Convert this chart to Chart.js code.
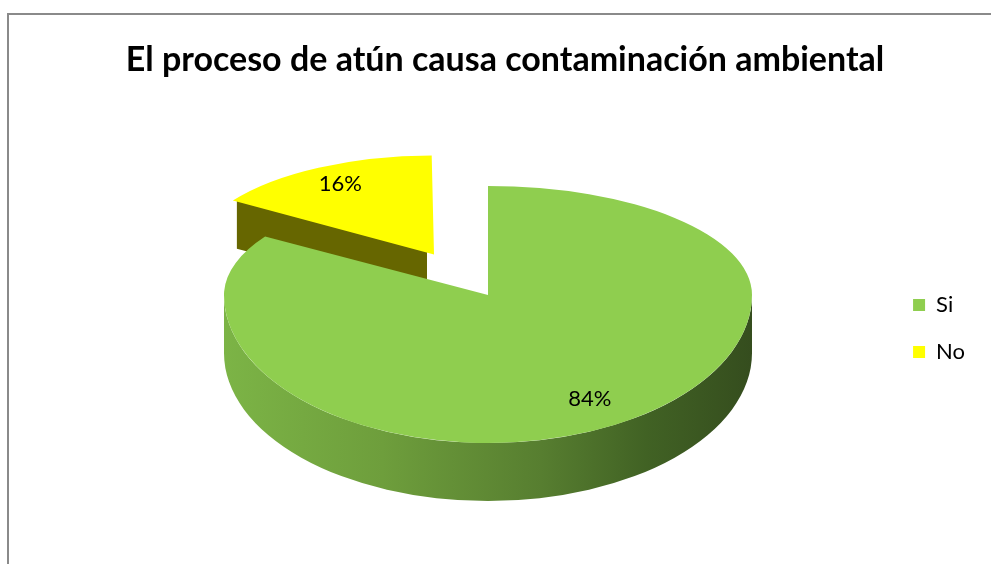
<!DOCTYPE html>
<html>
<head>
<meta charset="utf-8">
<script src="https://cdn.jsdelivr.net/npm/chart.js@4.4.1/dist/chart.umd.min.js"></script>
<style>
  html, body { margin: 0; padding: 0; background: #fff; }
</style>
</head>
<body>
<canvas id="grafico" width="991" height="564"></canvas>
<script>
const titulo = "El proceso de atún causa contaminación ambiental";
const categorias = ["Si", "No"];
const valores = [84, 16];
const colores = ["#8fce4f", "#ffff00"];
const coloresLado = ["#5f8a34", "#666600"];
const desplazamiento = [0, 332];

// geometria del "3D" (pantalla)
const R = 200;
const CX = 488, CY = 295, RX = 264, RY_ARRIBA = 109, RY_ABAJO = 148, PROF = 58;
const PERSP = 0.35; // las porciones alejadas se ven mas chicas

const pie3D = {
    id: 'pie3D',
    beforeDraw(chart) {
        // marco gris
        const ctx = chart.ctx;
        ctx.save();
        ctx.strokeStyle = '#8a8a8a';
        ctx.lineWidth = 2;
        ctx.beginPath();
        ctx.moveTo(8, 564);
        ctx.lineTo(8, 14);
        ctx.lineTo(991, 14);
        ctx.stroke();
        ctx.restore();
    },
    beforeDatasetsDraw(chart) {
        const ctx = chart.ctx;
        const arcs = chart.getDatasetMeta(0).data;
        const ax = arcs[0].x, ay = arcs[0].y, r = arcs[0].outerRadius;
        const sx = RX / r, kT = RY_ARRIBA / r, kB = RY_ABAJO / r;

        const desp = arc => {
            const off = (arc.options.offset || 0) / 4;
            const circ = arc.endAngle - arc.startAngle;
            const fix = 1 - Math.sin(Math.min(Math.PI, circ));
            const m = off * (1 + fix);
            const h = (arc.startAngle + arc.endAngle) / 2;
            const d = { x: Math.cos(h) * m, y: Math.sin(h) * m };
            d.p = 1 + Math.min(d.y, 0) / r * PERSP;
            return d;
        };
        const aPantalla = (px, py) => ({ x: CX + px * sx, y: CY + py * (py < 0 ? kT : kB) });
        // punto del borde superior de una porcion, relativo a su vertice
        const borde = (d, ap, a, f) => ({
            x: ap.x + d.p * Math.cos(a) * r * f * sx,
            y: ap.y + d.p * Math.sin(a) * r * f * (Math.sin(a) < 0 ? kT : kB)
        });

        // caras laterales
        arcs.forEach((arc, i) => {
            const d = desp(arc);
            const ap = aPantalla(d.x, d.y);
            const prof = PROF * d.p;
            [[arc.startAngle, Math.cos(arc.startAngle) < -0.01], [arc.endAngle, Math.cos(arc.endAngle) > 0.01]].forEach(([a, visible]) => {
                if (!visible) return;
                const p = borde(d, ap, a, 1);
                ctx.save();
                ctx.fillStyle = coloresLado[i];
                ctx.beginPath();
                ctx.moveTo(ap.x, ap.y);
                ctx.lineTo(p.x, p.y);
                ctx.lineTo(p.x, p.y + prof);
                ctx.lineTo(ap.x, ap.y + prof);
                ctx.closePath();
                ctx.fill();
                ctx.restore();
            });
            // borde exterior frontal
            const a0 = Math.max(arc.startAngle, 0), a1 = Math.min(arc.endAngle, Math.PI);
            if (a1 > a0) {
                const rx = RX * d.p, ry = RY_ABAJO * d.p;
                const g = ctx.createLinearGradient(ap.x - rx, 0, ap.x + rx, 0);
                g.addColorStop(0, '#7cb446');
                g.addColorStop(0.3, '#6e9e3c');
                g.addColorStop(0.6, '#577e30');
                g.addColorStop(0.8, '#416224');
                g.addColorStop(1, '#354d1e');
                ctx.save();
                ctx.fillStyle = g;
                ctx.beginPath();
                ctx.ellipse(ap.x, ap.y, rx, ry, 0, a0, a1, false);
                ctx.ellipse(ap.x, ap.y + prof, rx, ry, 0, a1, a0, true);
                ctx.closePath();
                ctx.fill();
                ctx.restore();
            }
        });

        // caras superiores: mitad de atras y mitad de adelante
        [[kT, 0, CY], [kB, CY, 564]].forEach(([k, y0, y1]) => {
            arcs.forEach(arc => {
                const d = desp(arc);
                const ap = aPantalla(d.x, d.y);
                const vx = ax + d.x, vy = ay + d.y;
                ctx.save();
                ctx.beginPath();
                ctx.rect(0, y0, 991, y1 - y0);
                ctx.clip();
                ctx.setTransform(d.p * sx, 0, 0, d.p * k, ap.x - d.p * sx * vx, ap.y - d.p * k * vy);
                arc.draw(ctx);
                ctx.restore();
            });
        });

        // etiquetas
        const total = valores.reduce((s, v) => s + v, 0);
        ctx.save();
        ctx.fillStyle = '#000';
        ctx.font = '22px Lato';
        ctx.textAlign = 'center';
        ctx.textBaseline = 'middle';
        arcs.forEach((arc, i) => {
            const d = desp(arc);
            const ap = aPantalla(d.x, d.y);
            const h = (arc.startAngle + arc.endAngle) / 2;
            const p = borde(d, ap, h, 0.8);
            ctx.fillText(Math.round(valores[i] / total * 100) + '%', p.x, p.y);
        });
        ctx.restore();
        return false;
    }
};

new Chart(document.getElementById('grafico').getContext('2d'), {
    type: 'pie',
    data: {
        labels: categorias,
        datasets: [{
            data: valores,
            backgroundColor: colores,
            borderWidth: 0,
            offset: desplazamiento,
            radius: R
        }]
    },
    options: {
        responsive: false,
        animation: false,
        events: [],
        layout: { padding: { left: 35, right: 16, top: 10, bottom: 20 } },
        plugins: {
            title: {
                display: true,
                text: titulo,
                color: '#000',
                font: { family: 'Lato', size: 34, weight: 'bold' },
                padding: { top: 30, bottom: 32 }
            },
            legend: {
                position: 'right',
                fullSize: false,
                labels: {
                    boxWidth: 12,
                    boxHeight: 12,
                    padding: 25,
                    color: '#000',
                    font: { family: 'Lato', size: 22 }
                }
            },
            tooltip: { enabled: false }
        }
    },
    plugins: [pie3D]
});
</script>
</body>
</html>
